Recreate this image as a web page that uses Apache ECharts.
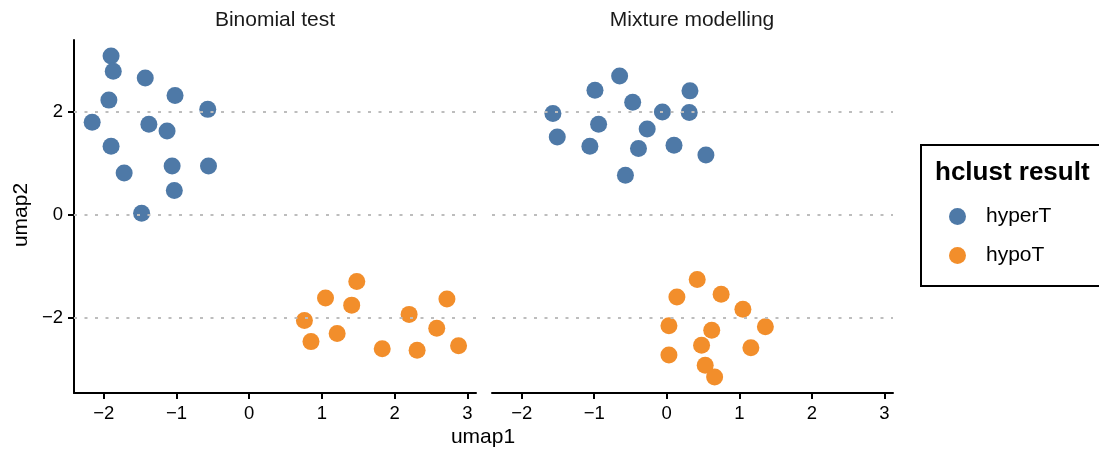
<!DOCTYPE html>
<html>
<head>
<meta charset="utf-8">
<script src="https://cdn.jsdelivr.net/npm/echarts@6/dist/echarts.min.js"></script>
<style>
  html, body { margin: 0; padding: 0; background: #fff; }
  #chart { width: 1099px; height: 452px; }
</style>
</head>
<body>
<div id="chart"></div>
<script>
// Facets and groups
const panels = ['Binomial test', 'Mixture modelling'];
const groups = ['hyperT', 'hypoT'];
const groupColors = ['#4E79A7', '#F28E2B'];

// Tick labels
const xTicks = [-2, -1, 0, 1, 2, 3];
const yTicks = [-2, 0, 2];

// Binomial test: hyperT
const binomHyperX = [-1.90, -1.87, -1.43, -1.02, -1.93, -0.57, -2.16, -1.38, -1.13, -1.90, -1.72, -1.06, -0.56, -1.03, -1.48];
const binomHyperY = [3.09, 2.79, 2.66, 2.32, 2.23, 2.05, 1.80, 1.76, 1.63, 1.33, 0.81, 0.95, 0.95, 0.47, 0.03];
// Binomial test: hypoT
const binomHypoX = [0.76, 0.85, 1.05, 1.48, 1.41, 1.21, 1.83, 2.20, 2.31, 2.72, 2.58, 2.88];
const binomHypoY = [-2.06, -2.47, -1.62, -1.30, -1.76, -2.31, -2.61, -1.94, -2.64, -1.64, -2.21, -2.55];
// Mixture modelling: hyperT
const mixHyperX = [-1.57, -1.51, -0.99, -0.65, -0.47, -0.94, -1.06, -0.27, -0.39, -0.06, 0.32, 0.31, 0.10, 0.54, -0.57];
const mixHyperY = [1.97, 1.51, 2.42, 2.70, 2.19, 1.76, 1.33, 1.67, 1.29, 2.00, 2.41, 1.99, 1.35, 1.16, 0.77];
// Mixture modelling: hypoT
const mixHypoX = [0.42, 0.14, 0.75, 1.05, 0.03, 0.62, 1.36, 0.48, 1.16, 0.03, 0.53, 0.66];
const mixHypoY = [-1.26, -1.60, -1.55, -1.84, -2.16, -2.25, -2.18, -2.54, -2.59, -2.73, -2.93, -3.16];

const xRange = [-2.41, 3.12];
const yRange = [-3.47, 3.40];

const zip = (xs, ys) => xs.map((x, i) => [x, ys[i]]);
const minus = v => (v < 0 ? '\u2212' + Math.abs(v) : String(v));
const FONT = 'Liberation Sans, Arial, Helvetica, sans-serif';

const grids = [
  { left: 74, top: 40, width: 402, height: 353 },
  { left: 492, top: 40, width: 401, height: 353 }
];

const xAxes = grids.map((g, i) => ({
  type: 'value', gridIndex: i, min: xRange[0], max: xRange[1],
  axisLine: { show: true, onZero: false, lineStyle: { color: '#000', width: 2 } },
  axisTick: { show: true, customValues: xTicks, length: 6, lineStyle: { color: '#000', width: 2 } },
  axisLabel: { show: true, customValues: xTicks, formatter: minus, fontSize: 18.5, color: '#000', fontFamily: FONT, margin: 11 },
  splitLine: { show: false }
}));

const yAxes = grids.map((g, i) => ({
  type: 'value', gridIndex: i, min: yRange[0], max: yRange[1],
  axisLine: { show: i === 0, onZero: false, lineStyle: { color: '#000', width: 2 } },
  axisTick: { show: i === 0, customValues: yTicks, length: 6, lineStyle: { color: '#000', width: 2 } },
  axisLabel: { show: i === 0, customValues: yTicks, formatter: minus, fontSize: 18.5, color: '#000', fontFamily: FONT, margin: 11 },
  splitLine: { show: false }
}));

// Dotted reference lines at the major y ticks, one carrier series per panel
const guideSeries = grids.map((g, i) => ({
  type: 'scatter', xAxisIndex: i, yAxisIndex: i, data: [], z: 1, silent: true,
  markLine: {
    silent: true, symbol: ['none', 'none'], label: { show: false },
    lineStyle: { color: '#bdbdbd', width: 2, type: [3, 7.5] },
    emphasis: { disabled: true },
    data: yTicks.map(v => ({ yAxis: v }))
  }
}));

const pointSets = [
  [zip(binomHyperX, binomHyperY), zip(binomHypoX, binomHypoY)],
  [zip(mixHyperX, mixHyperY), zip(mixHypoX, mixHypoY)]
];

const pointSeries = [];
pointSets.forEach((sets, i) => {
  sets.forEach((data, k) => {
    pointSeries.push({
      type: 'scatter', name: groups[k], xAxisIndex: i, yAxisIndex: i, z: 2,
      symbol: 'circle', symbolSize: 17, data,
      itemStyle: { color: groupColors[k], opacity: 1 }
    });
  });
});

const chart = echarts.init(document.getElementById('chart'));
chart.setOption({
  animation: false,
  backgroundColor: '#fff',
  grid: grids,
  xAxis: xAxes,
  yAxis: yAxes,
  legend: {
    data: groups, orient: 'vertical', left: 944, top: 201,
    itemWidth: 17, itemHeight: 17, itemGap: 18, icon: 'circle',
    textStyle: { fontSize: 21, color: '#000', fontFamily: FONT, padding: [0, 0, 0, 15] },
    selectedMode: false
  },
  graphic: [
    { type: 'text', x: 275, y: 20, style: { text: panels[0], font: '21px ' + FONT, fill: '#1a1a1a', align: 'center', verticalAlign: 'middle' } },
    { type: 'text', x: 692, y: 20, style: { text: panels[1], font: '21px ' + FONT, fill: '#1a1a1a', align: 'center', verticalAlign: 'middle' } },
    { type: 'text', x: 483, y: 437, style: { text: 'umap1', font: '21px ' + FONT, fill: '#000', align: 'center', verticalAlign: 'middle' } },
    { type: 'text', x: 21, y: 215, rotation: Math.PI / 2, style: { text: 'umap2', font: '21px ' + FONT, fill: '#000', align: 'center', verticalAlign: 'middle' } },
    { type: 'rect', shape: { x: 921, y: 145, width: 200, height: 141 }, style: { fill: 'none', stroke: '#000', lineWidth: 2 } },
    { type: 'text', x: 935, y: 173, style: { text: 'hclust result', font: 'bold 26px ' + FONT, fill: '#000', align: 'left', verticalAlign: 'middle' } }
  ],
  series: guideSeries.concat(pointSeries)
});
</script>
</body>
</html>
